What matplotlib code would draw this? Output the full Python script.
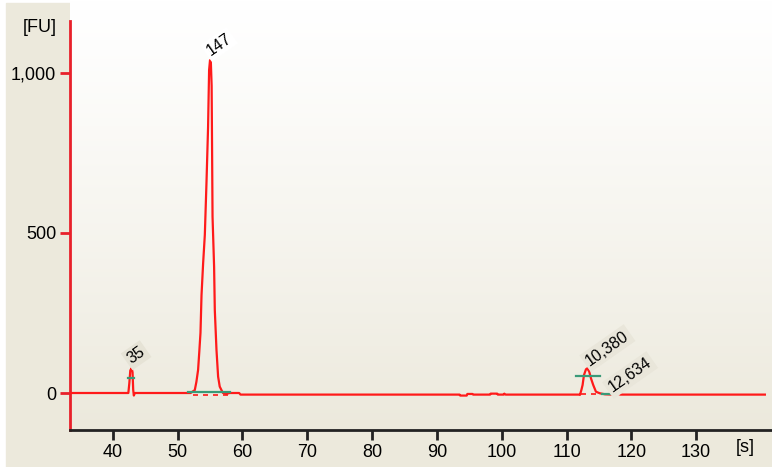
#!/usr/bin/env python3
"""
Electroferograma (Bioanalyzer) - recreacion del grafico
"""

import matplotlib.pyplot as plt
import matplotlib.patches as patches
import numpy as np

# Traza: tiempo [s] y fluorescencia [FU]
tiempo = [33.5, 42.4, 42.55, 42.7, 42.9, 43.05, 43.15, 43.25, 43.4,
          52.0, 52.65, 52.9, 53.16, 53.35, 53.53, 53.69, 53.94, 54.2, 54.46,
          54.7, 54.86, 55.0, 55.12, 55.25, 55.32, 55.39, 55.63, 55.74, 56.0,
          56.25, 56.5, 56.77, 57.0, 57.5, 58.0, 59.5, 59.7,
          93.5, 93.6, 94.6, 94.7, 95.5, 95.6, 98.2, 98.3, 99.3, 99.4,
          100.3, 100.4, 100.6,
          111.9, 112.07, 112.3, 112.48, 112.69, 113.0, 113.2, 113.5, 113.77,
          114.12, 114.54, 115.15, 115.93, 117.0, 118.0, 118.3, 140.6]
fu = [0, 0, 30, 70, 78, 65, 10, -8, 0,
      0, 9, 35, 72, 130, 188, 306, 406, 494, 660,
      830, 1009, 1040, 1040, 960, 759, 551, 395, 259, 134,
      51, 20, 9, 0, -3, 0, 0, -5,
      -5, -8, -8, -3, -3, -5, -5, -2, -2, -5,
      -5, -2, -5,
      -5, -6, 10, 25, 56, 74, 77, 67, 46,
      25, 4, -1, -4, -5, -3, -5, -5]

# Picos etiquetados
pico_etiquetas = ['35', '147', '10,380', '12,634']
pico_texto_t = [43.6, 56.4, 116.3, 119.8]
pico_texto_fu = [118, 1090, 140, 56]
pico_caja = ['#e6e3d6', 'white', '#e9e6da', '#e9e6da']

# Lineas verdes (nivel del pico) y lineas base punteadas
verde_t0 = [42.3, 51.6, 111.45, 115.4]
verde_t1 = [43.2, 58.1, 115.15, 116.7]
verde_fu = [48, 2, 54, -3]
base_t0 = [52.3, 112.3]
base_t1 = [58.5, 118.0]
base_fu = [-6, -4]

x_ticks = [40, 50, 60, 70, 80, 90, 100, 110, 120, 130]
y_ticks = [0, 500, 1000]
y_tick_labels = ['0', '500', '1,000']

BEIGE = '#ece9dc'
FUENTE = ['Liberation Sans Narrow', 'Liberation Sans', 'DejaVu Sans']


def crear_grafico():
    fig = plt.figure(figsize=(7.72, 4.67), dpi=100)
    fig.patch.set_facecolor('white')

    # Fondo beige del panel
    fondo = patches.Rectangle((6 / 772, 0), 1 - 6 / 772, 1 - 3 / 467,
                              transform=fig.transFigure, color=BEIGE, zorder=-10)
    fig.patches.append(fondo)

    # El area de trazado llega hasta el borde superior de la imagen
    ax = fig.add_axes([70 / 772, 1 - 430 / 467, 702 / 772, 430 / 467])
    xlim = (33.4, 141.7)
    ylim = (-115.6, 1228)
    ax.set_xlim(*xlim)
    ax.set_ylim(*ylim)

    # Degradado blanco -> beige en el area de trazado
    c0 = np.array([255, 255, 255]) / 255
    c1 = np.array([236, 233, 220]) / 255
    g = np.linspace(0, 1, 256)[:, None] ** 1.2
    grad = (c0[None, :] * (1 - g) + c1[None, :] * g)[:, None, :]
    ax.imshow(grad, extent=[xlim[0], xlim[1], ylim[0], ylim[1]], aspect='auto',
              origin='upper', zorder=0)

    ax.plot(tiempo, fu, color='#ff1a1a', linewidth=1.6, zorder=3)

    for t0, t1, v in zip(base_t0, base_t1, base_fu):
        ax.plot([t0, t1], [v, v], color='#ff1a1a', linewidth=1.2,
                linestyle=(0, (3, 3)), zorder=2)
    for t0, t1, v in zip(verde_t0, verde_t1, verde_fu):
        ax.plot([t0, t1], [v, v], color='#3a9a78', linewidth=1.6, zorder=4)

    for txt, t, v, c in zip(pico_etiquetas, pico_texto_t, pico_texto_fu, pico_caja):
        ax.text(t, v, txt, rotation=35, ha='center', va='center', fontsize=11.5,
                family=FUENTE, color='black', zorder=5,
                bbox=dict(facecolor=c, edgecolor='none', pad=2))

    # Ejes
    for s in ['top', 'right']:
        ax.spines[s].set_visible(False)
    ax.spines['left'].set_color('#e8202a')
    ax.spines['left'].set_linewidth(2)
    ax.spines['left'].set_bounds(ylim[0], 1162)
    ax.spines['bottom'].set_color('#222222')
    ax.spines['bottom'].set_linewidth(2)

    ax.set_xticks(x_ticks)
    ax.set_xticklabels([str(t) for t in x_ticks], family=FUENTE, fontsize=13)
    ax.set_yticks(y_ticks)
    ax.set_yticklabels(y_tick_labels, family=FUENTE, fontsize=13)
    ax.tick_params(axis='x', length=7, width=2, color='#222222', pad=3)
    ax.tick_params(axis='y', length=7, width=2, color='#e8202a', pad=3)

    fig.text(40 / 772, 1 - 28 / 467, '[FU]', ha='center', va='center',
             fontsize=13, family=FUENTE)
    fig.text(745 / 772, 1 - 447 / 467, '[s]', ha='center', va='center',
             fontsize=13, family=FUENTE)

    fig.savefig('out.png', dpi=100, facecolor=fig.get_facecolor())


if __name__ == '__main__':
    crear_grafico()
